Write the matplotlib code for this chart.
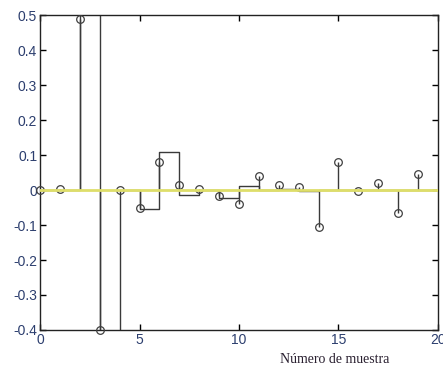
import numpy as np
import matplotlib
matplotlib.use('Agg')
import matplotlib.pyplot as plt

# muestras (stem)
n = np.arange(20)
x_n = [0.0, 0.004, 0.49, -0.40, 0.0, -0.05, 0.08, 0.015, 0.003, -0.018,
       -0.04, 0.04, 0.013, 0.008, -0.105, 0.08, -0.002, 0.019, -0.066, 0.045]

# retenedor de orden cero (stairs), valor en [k, k+1)
h_n = [0.0, 0.0, 0.6, -0.6, 0.0, -0.054, 0.109, -0.013, 0.0, -0.022,
       0.011, 0.0, 0.002, -0.004, 0.0, 0.0, 0.0, 0.0, 0.0, 0.0]

xticks = [0, 5, 10, 15, 20]
yticks = [-0.4, -0.3, -0.2, -0.1, 0, 0.1, 0.2, 0.3, 0.4, 0.5]
ylabels = ['-0.4', '-0.3', '-0.2', '-0.1', '0', '0.1', '0.2', '0.3', '0.4', '0.5']

fig = plt.figure(figsize=(4.43, 3.69), dpi=100)
ax = fig.add_axes([0.0903, 0.1057, 0.8984, 0.8536])

line_c = '#3a3a3a'

# escalones
edges = np.arange(21)
ax.step(edges, np.append(h_n, h_n[-1]), where='post', color=line_c, lw=1.0, zorder=2)

# stems
ax.vlines(n, 0, x_n, color=line_c, lw=1.0, zorder=2)
ax.plot(n, x_n, 'o', mfc='none', mec='#404040', ms=5.5, mew=0.9, zorder=3, clip_on=False)

# linea de cero
ax.axhline(0, color='#dede6a', lw=2.0, zorder=4)

ax.set_xlim(0, 20)
ax.set_ylim(-0.4, 0.5)
ax.set_xticks(xticks)
ax.set_yticks(yticks)
ax.set_yticklabels(ylabels)
ax.tick_params(direction='in', length=4, width=1, top=True, right=True,
               labelsize=10, labelcolor='#2c3e6e', pad=2)
for lab in ax.get_xticklabels() + ax.get_yticklabels():
    lab.set_family('Liberation Sans')
for s in ax.spines.values():
    s.set_linewidth(1.0)
    s.set_color('#222222')

ax.text(14.8, -0.485, 'Número de muestra', family='Liberation Serif', fontsize=10,
        ha='center', va='center', color='#2a2030')

fig.savefig('out.png', dpi=100)
